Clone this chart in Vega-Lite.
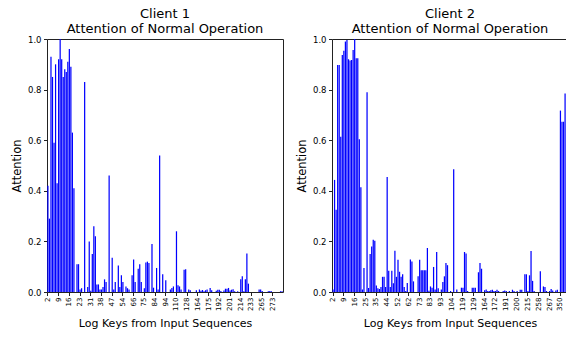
{
  "$schema": "https://vega.github.io/schema/vega-lite/v6.json",
  "padding": {"left": 10, "top": 7, "right": 0, "bottom": 0},
  "background": "white",
  "config": {
    "font": "DejaVu Sans",
    "view": {"stroke": "#222222", "strokeWidth": 1},
    "axis": {"domain": false, "grid": false, "tickColor": "#222222", "tickSize": 3.5, "labelColor": "#000000", "titleColor": "#000000", "titleFontWeight": "normal", "titleFont": "DejaVu Sans", "labelFont": "DejaVu Sans"},
    "title": {"fontSize": 13, "fontWeight": "normal", "lineHeight": 15, "offset": -1, "color": "#000000", "font": "DejaVu Sans"},
    "concat": {"spacing": 11}
  },
  "datasets": {
    "c1": [
      {"k":"2","v":0.42},{"k":"3","v":0.29},{"k":"4","v":0.93},{"k":"5","v":0.85},{"k":"6","v":0.59},{"k":"7","v":0.90},{"k":"8","v":0.43},
      {"k":"9","v":0.92},{"k":"10","v":1.0},{"k":"11","v":0.92},{"k":"12","v":0.85},{"k":"13","v":0.88},{"k":"14","v":0.87},{"k":"15","v":0.91},
      {"k":"16","v":0.96},{"k":"17","v":0.89},{"k":"18","v":0.63},{"k":"19","v":0.41},{"k":"20","v":0},{"k":"21","v":0.11},{"k":"22","v":0.11},
      {"k":"23","v":0.01},{"k":"24","v":0.015},{"k":"25","v":0},{"k":"26","v":0.83},{"k":"27","v":0},{"k":"28","v":0.02},{"k":"30","v":0.2},
      {"k":"31","v":0.005},{"k":"32","v":0.15},{"k":"33","v":0.26},{"k":"34","v":0.22},{"k":"35","v":0.03},{"k":"36","v":0.03},{"k":"37","v":0.01},
      {"k":"38","v":0.01},{"k":"39","v":0.02},{"k":"40","v":0.05},{"k":"42","v":0.04},{"k":"43","v":0},{"k":"44","v":0.46},{"k":"46","v":0},
      {"k":"47","v":0.135},{"k":"48","v":0.01},{"k":"49","v":0.04},{"k":"50","v":0},{"k":"51","v":0.105},{"k":"52","v":0.02},{"k":"53","v":0.066},
      {"k":"54","v":0.04},{"k":"55","v":0},{"k":"57","v":0.022},{"k":"59","v":0.015},{"k":"61","v":0.01},{"k":"63","v":0},{"k":"65","v":0.066},
      {"k":"66","v":0.128},{"k":"67","v":0.04},{"k":"68","v":0},{"k":"70","v":0.092},{"k":"71","v":0.11},{"k":"72","v":0.04},{"k":"74","v":0},
      {"k":"75","v":0.015},{"k":"76","v":0.117},{"k":"77","v":0.12},{"k":"79","v":0.115},{"k":"80","v":0},{"k":"81","v":0.19},{"k":"83","v":0.017},
      {"k":"84","v":0},{"k":"85","v":0.095},{"k":"87","v":0.01},{"k":"88","v":0.54},{"k":"90","v":0},{"k":"91","v":0.07},{"k":"93","v":0},
      {"k":"94","v":0.046},{"k":"96","v":0},{"k":"99","v":0},{"k":"101","v":0.01},{"k":"104","v":0.016},{"k":"106","v":0.022},{"k":"108","v":0},
      {"k":"110","v":0.24},{"k":"112","v":0.027},{"k":"115","v":0.022},{"k":"118","v":0.01},{"k":"121","v":0},{"k":"124","v":0.088},{"k":"126","v":0.09},
      {"k":"128","v":0},{"k":"131","v":0.01},{"k":"136","v":0.007},{"k":"142","v":0},{"k":"148","v":0},{"k":"154","v":0},{"k":"160","v":0.007},
      {"k":"164","v":0},{"k":"165","v":0.01},{"k":"167","v":0.005},{"k":"169","v":0.008},{"k":"170","v":0.003},{"k":"172","v":0.007},{"k":"173","v":0.01},
      {"k":"175","v":0},{"k":"177","v":0.016},{"k":"180","v":0.007},{"k":"182","v":0},{"k":"185","v":0},{"k":"188","v":0.005},{"k":"190","v":0.009},
      {"k":"192","v":0.009},{"k":"193","v":0.004},{"k":"194","v":0},{"k":"196","v":0.006},{"k":"197","v":0.013},{"k":"198","v":0.013},{"k":"200","v":0.016},
      {"k":"201","v":0.006},{"k":"203","v":0.009},{"k":"205","v":0.011},{"k":"207","v":0.003},{"k":"209","v":0},{"k":"211","v":0.003},{"k":"212","v":0},
      {"k":"214","v":0.05},{"k":"216","v":0.062},{"k":"219","v":0.003},{"k":"222","v":0.05},{"k":"225","v":0.152},{"k":"228","v":0.033},{"k":"231","v":0},
      {"k":"233","v":0},{"k":"237","v":0},{"k":"242","v":0},{"k":"247","v":0},{"k":"252","v":0},{"k":"257","v":0.01},{"k":"261","v":0.01},
      {"k":"265","v":0.004},{"k":"266","v":0},{"k":"267","v":0},{"k":"268","v":0},{"k":"270","v":0.003},{"k":"271","v":0.004},{"k":"272","v":0.003},
      {"k":"273","v":0},{"k":"276","v":0},{"k":"279","v":0},{"k":"283","v":0},{"k":"288","v":0},{"k":"294","v":0.003},{"k":"301","v":0.003}
    ],
    "c2": [
      {"k":"2","v":0.01},{"k":"3","v":0.443},{"k":"4","v":0.325},{"k":"5","v":0.897},{"k":"6","v":0.897},{"k":"7","v":0.614},{"k":"8","v":0.937},
      {"k":"9","v":0.954},{"k":"10","v":0.99},{"k":"11","v":0.996},{"k":"12","v":0.92},{"k":"13","v":0.915},{"k":"14","v":0.917},{"k":"15","v":0.957},
      {"k":"16","v":1.0},{"k":"17","v":0.924},{"k":"18","v":0.924},{"k":"19","v":0.604},{"k":"21","v":0.414},{"k":"22","v":0.01},{"k":"23","v":0.095},
      {"k":"25","v":0},{"k":"26","v":0.79},{"k":"28","v":0.016},{"k":"29","v":0.15},{"k":"31","v":0.18},{"k":"32","v":0.207},{"k":"33","v":0.203},
      {"k":"35","v":0.026},{"k":"36","v":0.015},{"k":"37","v":0.012},{"k":"39","v":0.02},{"k":"40","v":0.06},{"k":"41","v":0.06},{"k":"42","v":0.02},
      {"k":"44","v":0.455},{"k":"45","v":0.084},{"k":"46","v":0.02},{"k":"47","v":0.084},{"k":"49","v":0.035},{"k":"50","v":0.163},{"k":"51","v":0.06},
      {"k":"52","v":0.127},{"k":"53","v":0.08},{"k":"55","v":0.06},{"k":"56","v":0.07},{"k":"58","v":0.02},{"k":"59","v":0.004},{"k":"61","v":0.036},
      {"k":"62","v":0},{"k":"64","v":0.128},{"k":"65","v":0.121},{"k":"67","v":0.042},{"k":"68","v":0},{"k":"70","v":0},{"k":"71","v":0.062},
      {"k":"73","v":0.127},{"k":"74","v":0.086},{"k":"76","v":0.086},{"k":"77","v":0.086},{"k":"79","v":0.086},{"k":"80","v":0.174},{"k":"82","v":0.005},
      {"k":"83","v":0.022},{"k":"84","v":0.017},{"k":"86","v":0.099},{"k":"87","v":0.01},{"k":"89","v":0.158},{"k":"90","v":0.015},{"k":"92","v":0},
      {"k":"93","v":0.01},{"k":"94","v":0.04},{"k":"96","v":0.062},{"k":"97","v":0.115},{"k":"99","v":0.106},{"k":"100","v":0},{"k":"102","v":0.004},
      {"k":"104","v":0},{"k":"106","v":0.485},{"k":"108","v":0},{"k":"110","v":0.01},{"k":"113","v":0},{"k":"115","v":0},{"k":"117","v":0.017},
      {"k":"119","v":0.017},{"k":"120","v":0.158},{"k":"122","v":0.152},{"k":"123","v":0.004},{"k":"125","v":0},{"k":"126","v":0},{"k":"128","v":0.017},
      {"k":"129","v":0.017},{"k":"133","v":0.017},{"k":"138","v":0},{"k":"144","v":0.078},{"k":"150","v":0.115},{"k":"155","v":0.092},{"k":"160","v":0},
      {"k":"164","v":0.007},{"k":"165","v":0.01},{"k":"166","v":0.004},{"k":"167","v":0.004},{"k":"169","v":0.007},{"k":"170","v":0.009},{"k":"171","v":0.004},
      {"k":"172","v":0.004},{"k":"175","v":0.009},{"k":"178","v":0.004},{"k":"181","v":0},{"k":"184","v":0},{"k":"187","v":0.004},{"k":"189","v":0.006},
      {"k":"191","v":0.004},{"k":"192","v":0},{"k":"193","v":0.004},{"k":"195","v":0},{"k":"196","v":0.009},{"k":"197","v":0.004},{"k":"199","v":0},
      {"k":"200","v":0.004},{"k":"202","v":0},{"k":"204","v":0.009},{"k":"206","v":0.009},{"k":"209","v":0},{"k":"211","v":0.07},{"k":"213","v":0.07},
      {"k":"215","v":0.004},{"k":"221","v":0.066},{"k":"228","v":0.162},{"k":"235","v":0.044},{"k":"242","v":0.004},{"k":"248","v":0},{"k":"254","v":0},
      {"k":"258","v":0},{"k":"259","v":0.082},{"k":"260","v":0},{"k":"262","v":0.022},{"k":"263","v":0.02},{"k":"264","v":0.004},{"k":"265","v":0},
      {"k":"267","v":0.004},{"k":"280","v":0.012},{"k":"295","v":0.006},{"k":"310","v":0},{"k":"322","v":0.006},{"k":"334","v":0.009},{"k":"345","v":0},
      {"k":"350","v":0.717},{"k":"352","v":0.673},{"k":"355","v":0.673},{"k":"360","v":0.785}
    ]
  },
  "hconcat": [
    {
      "title": {"text": ["Client 1", "Attention of Normal Operation"]},
      "width": 236,
      "height": 253,
      "data": {"name": "c1"},
      "mark": {"type": "bar", "color": "#0000ff"},
      "encoding": {
        "x": {
          "field": "k", "type": "ordinal", "sort": null,
          "scale": {"paddingInner": 0.2, "paddingOuter": 0.2},
          "axis": {
            "values": ["2","9","16","23","31","38","47","54","66","75","84","94","110","128","164","175","192","201","214","233","265","273"],
            "labelAngle": 270, "labelFontSize": 7, "labelPadding": 1.5,
            "title": "Log Keys from Input Sequences", "titleFontSize": 11, "titlePadding": 7.5
          }
        },
        "y": {
          "field": "v", "type": "quantitative",
          "scale": {"domain": [0, 1], "nice": false, "zero": true},
          "axis": {
            "values": [0, 0.2, 0.4, 0.6, 0.8, 1], "format": ".1f",
            "labelFontSize": 8.5, "labelPadding": 2.5,
            "title": "Attention", "titleFontSize": 11.5, "titlePadding": 5
          }
        }
      }
    },
    {
      "title": {"text": ["Client 2", "Attention of Normal Operation"]},
      "width": 236,
      "height": 253,
      "data": {"name": "c2"},
      "mark": {"type": "bar", "color": "#0000ff"},
      "encoding": {
        "x": {
          "field": "k", "type": "ordinal", "sort": null,
          "scale": {"paddingInner": 0.2, "paddingOuter": 0.875, "align": 0.15},
          "axis": {
            "values": ["2","9","16","25","35","44","52","62","73","83","93","104","119","129","164","172","191","200","215","258","267","350"],
            "labelAngle": 270, "labelFontSize": 7, "labelPadding": 1.5,
            "title": "Log Keys from Input Sequences", "titleFontSize": 11, "titlePadding": 7.5
          }
        },
        "y": {
          "field": "v", "type": "quantitative",
          "scale": {"domain": [0, 1], "nice": false, "zero": true},
          "axis": {
            "values": [0, 0.2, 0.4, 0.6, 0.8, 1], "format": ".1f",
            "labelFontSize": 8.5, "labelPadding": 2.5,
            "title": "Attention", "titleFontSize": 11.5, "titlePadding": 5
          }
        }
      }
    }
  ]
}
